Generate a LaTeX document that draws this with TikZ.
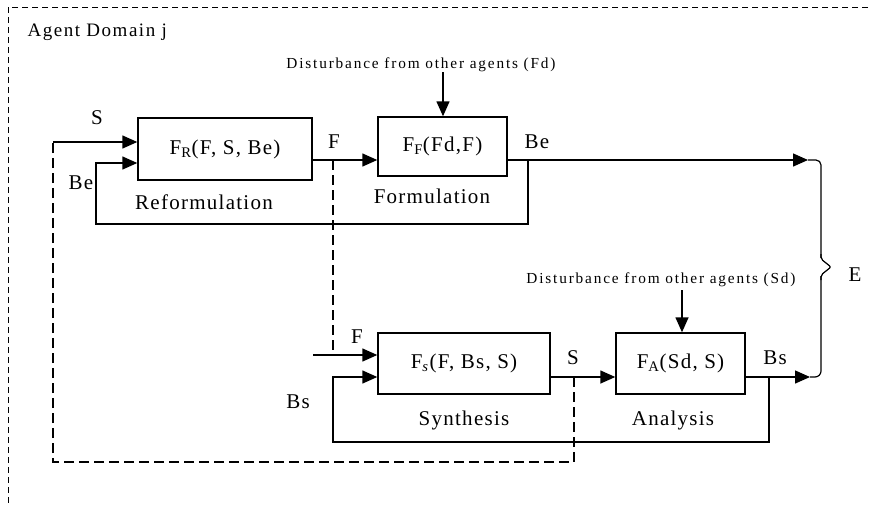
\documentclass[tikz,border=0pt]{standalone}
\usepackage{fontspec}
\setmainfont{Liberation Serif}
\newfontfamily\lblfont{Liberation Serif}[LetterSpace=6]
\newfontfamily\titlefont{Liberation Serif}[LetterSpace=8]
\newfontfamily\distfont{Liberation Serif}[LetterSpace=12]
\usetikzlibrary{arrows.meta}
\begin{document}
\begin{tikzpicture}[x=1pt,y=-1pt,
  line width=1.4pt,
  box/.style={draw, inner sep=0pt, font=\lblfont\fontsize{21}{24}\selectfont},
  lbl/.style={inner sep=0pt, font=\lblfont\fontsize{21}{24}\selectfont},
  ttl/.style={inner sep=0pt, font=\titlefont\fontsize{19}{22}\selectfont},
  dist/.style={inner sep=0pt, font=\distfont\fontsize{15.3}{18}\selectfont},
  arr/.style={-{Triangle[length=15pt,width=13pt]}},
  dsh/.style={dash pattern=on 10pt off 5pt},
  border/.style={line width=1pt, dash pattern=on 6pt off 4pt}]
\useasboundingbox (0,0) rectangle (872,504);
\fill[white] (0,0) rectangle (872,504);
\draw[border] (8,7) rectangle (880,515);

% boxes
\node[box, minimum width=174pt, minimum height=62pt] (FR) at (225,149) {F\textsubscript{R}(F, S, Be)};
\node[box, minimum width=129pt, minimum height=59pt] (FF) at (442.5,146.5) {F\textsubscript{F}(Fd,F)};
\node[box, minimum width=172pt, minimum height=61pt] (FS) at (464,363.5) {F\textsubscript{\textit{s}}(F, Bs, S)};
\node[box, minimum width=129pt, minimum height=61pt] (FA) at (680.5,363.5) {F\textsubscript{A}(Sd, S)};

% labels
\node[ttl, anchor=west] (title) at (27,32) {Agent Domain j};
\node[lbl] (lS1) at (97,118) {S};
\node[lbl] (lBe1) at (81,183) {Be};
\node[lbl] (lF1) at (334,142) {F};
\node[lbl] (lBe2) at (537,142) {Be};
\node[lbl] (lF2) at (357,337) {F};
\node[lbl] (lBs1) at (298,402) {Bs};
\node[lbl] (lS2) at (573,358) {S};
\node[lbl] (lBs2) at (775,358) {Bs};
\node[lbl] (lE) at (855,275) {E};
\node[lbl] (nR) at (204,202) {Reformulation};
\node[lbl] (nF) at (432,196) {Formulation};
\node[lbl] (nS) at (464,420) {Synthesis};
\node[lbl] (nA) at (673,420) {Analysis};
\node[dist] (dF) at (421,65) {Disturbance from other agents (Fd)};
\node[dist] (dS) at (661,280) {Disturbance from other agents (Sd)};

% coordinates
\coordinate (sStart) at (53,142);
\coordinate (beL) at (96,163);
\coordinate (beB) at (96,224);
\coordinate (beR) at (528,224);
\coordinate (beTap) at (528,160);
\coordinate (fTap) at (333,160);
\coordinate (fsIn) at (313,355);
\coordinate (fsTap) at (333,355);
\coordinate (bsL) at (333,377);
\coordinate (bsB) at (333,442);
\coordinate (bsR) at (769,442);
\coordinate (bsTap) at (769,377);
\coordinate (sTap) at (574,377);
\coordinate (sDB) at (574,462);
\coordinate (sDL) at (53,462);
\coordinate (beTip) at (808,160);
\coordinate (bsTip) at (810,377);
\coordinate (dFtop) at (443,72);
\coordinate (dStop) at (682,290);

% disturbance arrows
\draw[arr] (dFtop) -- (dFtop |- FF.north);
\draw[arr] (dStop) -- (dStop |- FA.north);

% reformulation inputs
\draw[arr] (sStart) -- (sStart -| FR.west);
\draw[arr] (beTap) -- (beR) -- (beB) -- (beL) -- (beL -| FR.west);
% F
\draw[arr] (FR.east |- fTap) -- (FF.west |- fTap);
\draw[dsh] (fTap) -- (fsTap);
% Be out
\draw[arr] (FF.east |- beTip) -- (beTip);
% synthesis inputs
\draw[arr] (fsIn) -- (fsIn -| FS.west);
\draw[arr] (bsTap) -- (bsR) -- (bsB) -- (bsL) -- (bsL -| FS.west);
% S
\draw[arr] (FS.east |- sTap) -- (FA.west |- sTap);
\draw[dsh] (sTap) -- (sDB) -- (sDL) -- (sStart);
% Bs out
\draw[arr] (FA.east |- bsTip) -- (bsTip);
% brace
\draw[line width=1.2pt, rounded corners=5pt] (beTip) -- (821,160) -- (821,258);
\draw[line width=1.2pt, rounded corners=2pt] (821,254) -- (821,259) -- (831,267) -- (821,275) -- (821,280);
\draw[line width=1.2pt, rounded corners=6pt] (821,276) -- (821,377) -- (bsTip);
\end{tikzpicture}
\end{document}
